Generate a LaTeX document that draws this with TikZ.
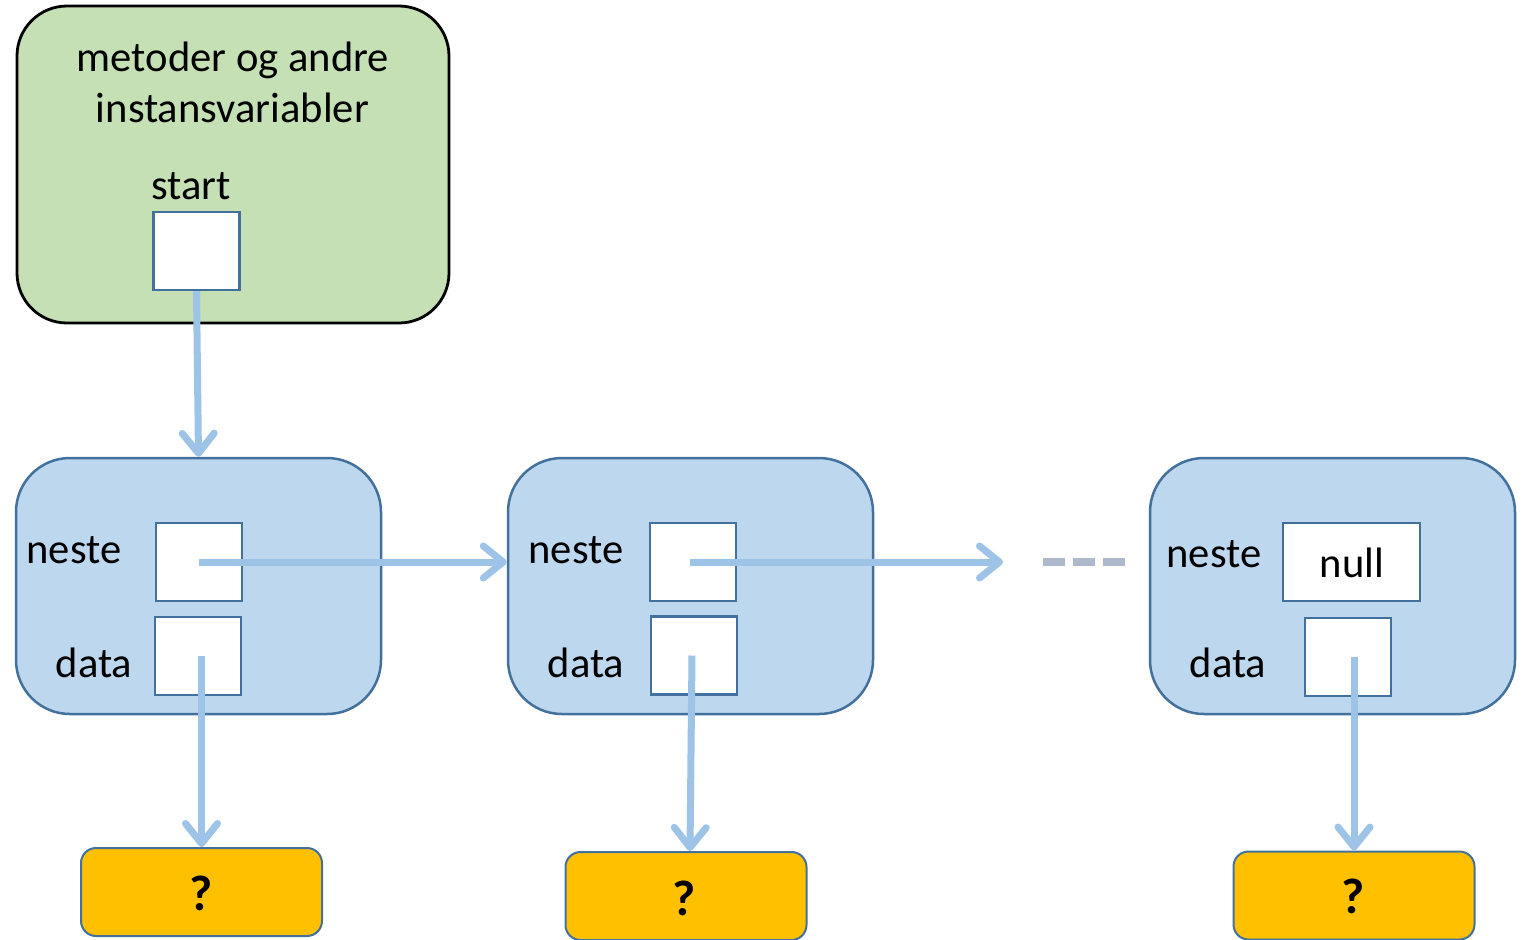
\documentclass[tikz,border=0pt]{standalone}
\usepackage{fontspec}
\setmainfont{Carlito}
\usetikzlibrary{arrows.meta,calc}
\definecolor{greenfill}{HTML}{C5E0B4}
\definecolor{bluefill}{HTML}{BDD7EE}
\definecolor{nodeborder}{HTML}{41719C}
\definecolor{arrowblue}{HTML}{9DC3E6}
\definecolor{resultfill}{HTML}{FFC000}
\definecolor{dashgray}{HTML}{ADB9CA}
\begin{document}
\begin{tikzpicture}[x=0.5pt,y=-0.5pt,
  holder/.style={draw=black,line width=1.4pt,fill=greenfill,rounded corners=25pt,minimum width=216pt,minimum height=158.5pt,inner sep=0pt},
  outer/.style={draw=nodeborder,line width=1.25pt,fill=bluefill,rounded corners=27pt,minimum width=182.5pt,minimum height=128pt,inner sep=0pt},
  cell/.style={draw=nodeborder,line width=1.1pt,fill=white,minimum width=43pt,minimum height=39pt,inner sep=0pt},
  lbl/.style={font=\fontsize{21.3}{25}\selectfont,anchor=base,inner sep=0pt},
  ptr/.style={draw=arrowblue,line width=3.5pt,-{Straight Barb[length=10pt,width=16pt,round]}},
  result/.style={draw=nodeborder,line width=1pt,fill=resultfill,rounded corners=7.5pt,minimum width=120.5pt,minimum height=44pt,inner sep=0pt},
  qmark/.style={font=\fontsize{25}{28}\selectfont\bfseries,anchor=base,inner sep=0pt}
]
\useasboundingbox (0,0) rectangle (1527,939);

% holder object
\node[holder] (holder) at (233,164.5) {};
\node[lbl] (title1) at (233,71) {metoder og andre};
\node[lbl] (title2) at (232.5,122) {instansvariabler};
\node[lbl] (startlbl) at (191,199) {start};
\node[cell] (start) at (196.5,251) {};

% list nodes
\node[outer] (n1) at (198.5,586) {};
\node[outer] (n2) at (690.5,586) {};
\node[outer] (n3) at (1332.5,586) {};

\node[lbl] (n1neste) at (74,563) {neste};
\node[lbl] (n1data) at (94,677) {data};
\node[cell] (next1) at (199,562) {};
\node[cell] (data1) at (198,656) {};

\node[lbl] (n2neste) at (576,563) {neste};
\node[lbl] (n2data) at (586,677) {data};
\node[cell] (next2) at (693,562) {};
\node[cell] (data2) at (694,655.5) {};

\node[lbl] (n3neste) at (1214,567) {neste};
\node[lbl] (n3data) at (1228,677) {data};
\node[cell,minimum width=68.5pt] (next3) at (1351.5,562) {};
\node[lbl] (nulltxt) at (1352,577) {null};
\node[cell] (data3) at (1348,657) {};

% data objects
\node[result] (r1) at (201.5,892) {};
\node[qmark] (q1) at (201.5,910) {?};
\node[result] (r2) at (686,896) {};
\node[qmark] (q2) at (684,915) {?};
\node[result] (r3) at (1354,895.5) {};
\node[qmark] (q3) at (1353,913) {?};

% connectors
\coordinate (more) at (1003,562);
\draw[ptr] (start.south) -- (n1.north);
\draw[ptr] (next1.center) -- (next1.center -| n2.west);
\draw[ptr] ($(next2.center)+(-3,0)$) -- (more);
\draw[ptr] (r1.north |- data1.center) -- (r1.north);
\draw[ptr] ($(data2.center)+(-2,0)$) -- ($(r2.north)+(4,0)$);
\draw[ptr] (r3.north |- data3.center) -- (r3.north);

% continuation dashes
\coordinate (dashA) at (1043,562);
\coordinate (dashB) at (1125,562);
\draw[dashgray,line width=4pt,dash pattern=on 11pt off 4pt] (dashA) -- (dashB);
\end{tikzpicture}
\end{document}
